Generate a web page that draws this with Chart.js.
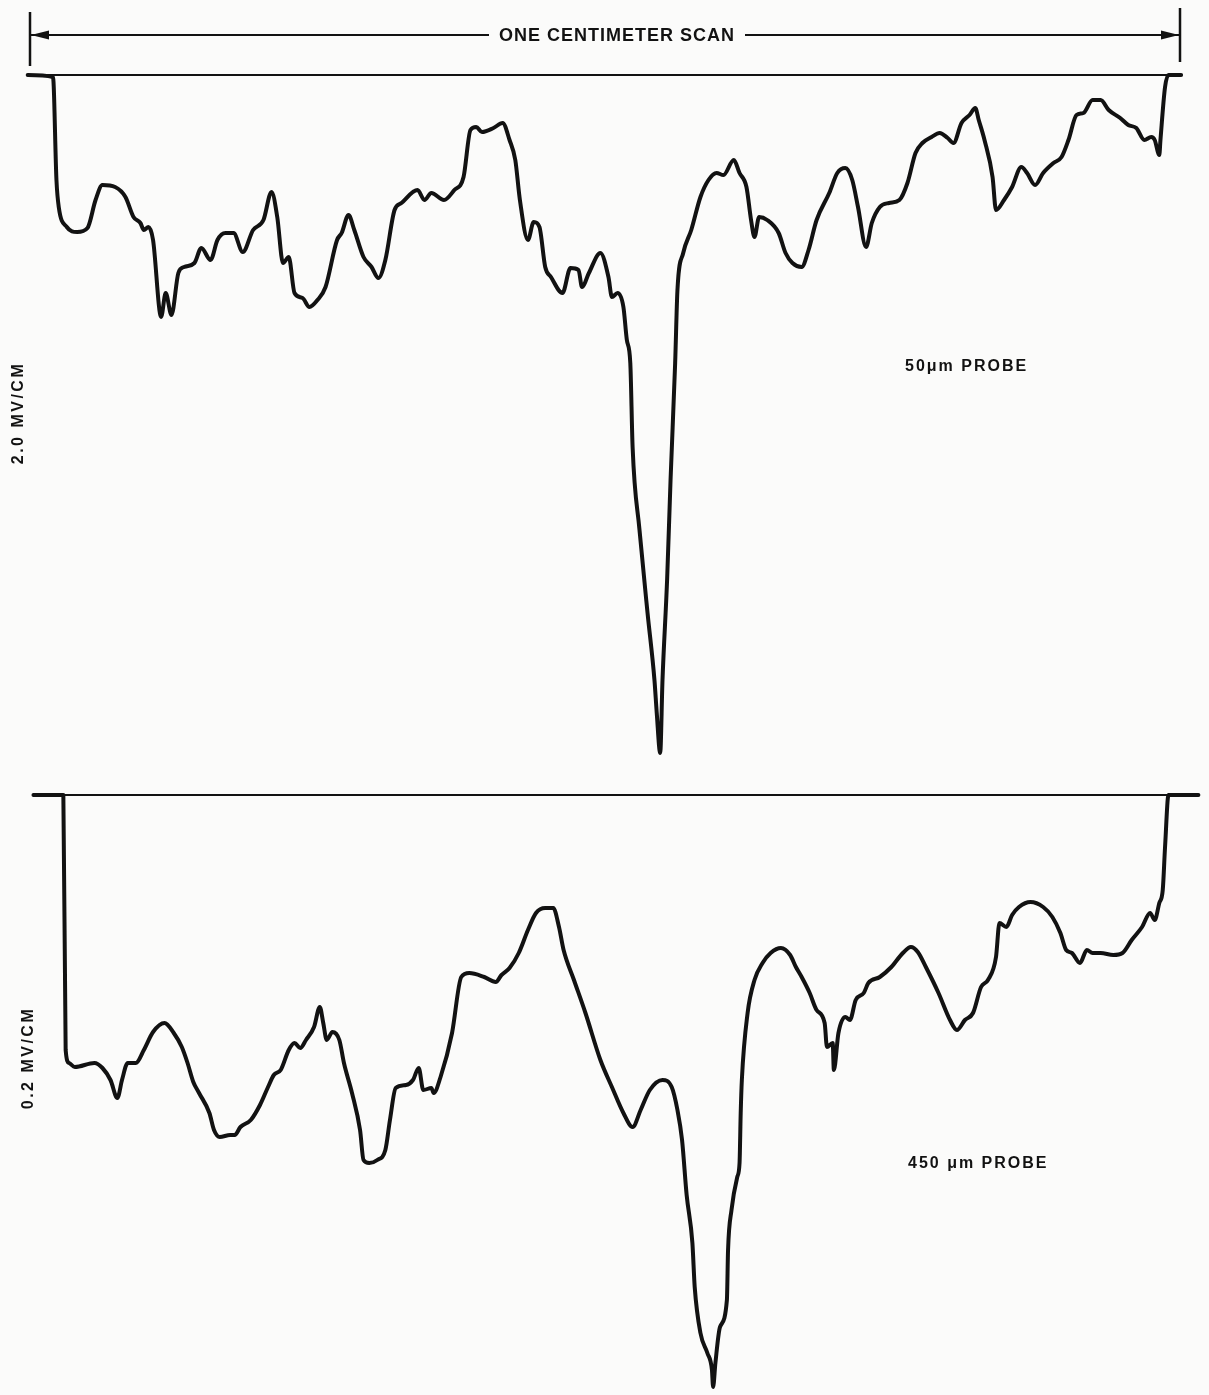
<!DOCTYPE html>
<html>
<head>
<meta charset="utf-8">
<title>One centimeter scan – 50 μm and 450 μm probes</title>
<script src="https://cdn.jsdelivr.net/npm/chart.js@4.4.1/dist/chart.umd.min.js"></script>
<style>
  html, body { margin: 0; padding: 0; background: #fbfbfa; }
  #wrap { position: relative; width: 1209px; height: 1395px; }
  canvas { display: block; }
</style>
</head>
<body>
<div id="wrap"><canvas id="scan" width="1209" height="1395"></canvas></div>
<script>
// Scan position in mm (0 … 10 mm = one centimeter) and field deflection
// in chart units below the zero line (negative = downward deflection).

// 50 μm probe trace
const probe50 = [
  [-0.02,0],[0.20,-0.2],[0.23,-10.5],[0.25,-13.2],[0.32,-15.2],[0.41,-15.7],[0.50,-15.3],[0.57,-12.5],
  [0.63,-11.0],[0.74,-11.2],[0.83,-12.2],[0.90,-14.2],[0.96,-14.8],[0.99,-15.5],[1.03,-15.2],[1.07,-16.5],
  [1.14,-24.2],[1.18,-21.8],[1.23,-24.0],[1.29,-19.8],[1.34,-19.2],[1.43,-18.8],[1.49,-17.3],[1.57,-18.5],
  [1.63,-16.5],[1.70,-15.8],[1.77,-15.8],[1.85,-17.7],[1.94,-15.5],[2.03,-14.5],[2.10,-11.7],[2.15,-14.2],
  [2.20,-18.8],[2.25,-18.2],[2.30,-21.8],[2.37,-22.3],[2.43,-23.2],[2.50,-22.5],[2.57,-21.2],[2.67,-16.5],
  [2.71,-15.8],[2.77,-14.0],[2.82,-15.5],[2.90,-18.2],[2.97,-19.2],[3.03,-20.3],[3.09,-18.5],[3.17,-13.5],
  [3.23,-12.8],[3.37,-11.5],[3.43,-12.5],[3.49,-11.8],[3.60,-12.5],[3.69,-11.5],[3.77,-10.2],[3.83,-5.5],
  [3.88,-5.2],[3.93,-5.7],[4.03,-5.3],[4.11,-4.8],[4.17,-6.5],[4.22,-8.5],[4.26,-12.5],[4.33,-16.5],
  [4.38,-14.7],[4.43,-15.2],[4.48,-19.2],[4.53,-20.2],[4.63,-21.8],[4.70,-19.3],[4.77,-19.5],[4.80,-21.2],
  [4.86,-19.8],[4.96,-17.8],[5.03,-20.2],[5.06,-22.2],[5.11,-21.8],[5.16,-23.2],[5.19,-26.5],[5.22,-28.8],
  [5.24,-37.2],[5.30,-45.5],[5.37,-53.8],[5.43,-60.5],[5.45,-63.8],[5.48,-67.8],[5.50,-60.5],[5.54,-50.5],
  [5.57,-40.5],[5.61,-28.8],[5.63,-21.5],[5.68,-17.8],[5.75,-15.5],[5.83,-12.2],[5.90,-10.5],[5.97,-9.8],
  [6.03,-10.0],[6.12,-8.5],[6.17,-9.8],[6.23,-11.2],[6.27,-14.5],[6.30,-16.2],[6.34,-14.2],[6.41,-14.5],
  [6.51,-15.8],[6.57,-17.8],[6.63,-18.8],[6.71,-19.2],[6.77,-17.5],[6.84,-14.5],[6.95,-11.8],[7.02,-9.8],
  [7.09,-9.3],[7.15,-10.5],[7.20,-13.2],[7.27,-17.2],[7.32,-14.8],[7.39,-13.2],[7.47,-12.8],[7.56,-12.5],
  [7.63,-10.8],[7.70,-7.8],[7.76,-6.8],[7.84,-6.2],[7.91,-5.8],[7.98,-6.3],[8.03,-6.8],[8.10,-4.8],
  [8.17,-4.0],[8.22,-3.3],[8.25,-4.5],[8.30,-6.5],[8.37,-10.2],[8.40,-13.5],[8.47,-12.5],[8.54,-11.2],
  [8.62,-9.2],[8.67,-9.8],[8.74,-11.0],[8.81,-9.8],[8.90,-8.8],[8.97,-8.2],[9.03,-6.5],[9.10,-4.0],
  [9.16,-3.8],[9.24,-2.5],[9.31,-2.5],[9.38,-3.5],[9.48,-4.3],[9.55,-5.0],[9.62,-5.3],[9.69,-6.5],
  [9.75,-6.2],[9.78,-6.5],[9.82,-8.0],[9.83,-6.5],[9.87,-1.2],[9.90,0],[10.01,0]
];

// 450 μm probe trace
const probe450 = [
  [0.03,0],[0.29,0],[0.31,-25.5],[0.34,-26.8],[0.39,-27.2],[0.56,-26.8],[0.63,-27.3],[0.70,-28.5],
  [0.76,-30.3],[0.80,-28.5],[0.85,-26.8],[0.92,-26.8],[0.99,-25.5],[1.07,-23.7],[1.17,-22.8],[1.25,-23.8],
  [1.32,-25.2],[1.37,-26.8],[1.42,-28.7],[1.47,-29.8],[1.56,-31.8],[1.60,-33.5],[1.65,-34.2],[1.74,-34.0],
  [1.78,-34.0],[1.83,-33.2],[1.92,-32.5],[2.00,-31.0],[2.07,-29.2],[2.12,-28.0],[2.18,-27.5],[2.25,-25.5],
  [2.30,-24.8],[2.35,-25.3],[2.40,-24.5],[2.47,-23.2],[2.52,-21.2],[2.55,-22.8],[2.58,-24.5],[2.63,-23.7],
  [2.69,-24.5],[2.73,-26.8],[2.80,-29.8],[2.87,-33.5],[2.90,-36.5],[2.95,-36.8],[3.02,-36.5],[3.09,-35.5],
  [3.13,-32.5],[3.18,-29.3],[3.27,-29.0],[3.33,-28.5],[3.38,-27.3],[3.42,-29.5],[3.49,-29.3],[3.51,-29.8],
  [3.57,-28.2],[3.67,-23.8],[3.75,-18.2],[3.82,-17.8],[3.95,-18.2],[4.05,-18.7],[4.10,-18.0],[4.17,-17.3],
  [4.25,-15.8],[4.33,-13.5],[4.40,-11.8],[4.48,-11.3],[4.55,-11.3],[4.60,-13.2],[4.64,-15.5],[4.73,-18.5],
  [4.83,-21.8],[4.96,-26.5],[5.06,-29.2],[5.16,-31.8],[5.24,-33.2],[5.31,-31.5],[5.39,-29.5],[5.50,-28.5],
  [5.58,-29.2],[5.63,-31.5],[5.67,-34.5],[5.71,-40.0],[5.76,-44.8],[5.78,-49.2],[5.83,-53.8],[5.89,-55.8],
  [5.93,-57.5],[5.94,-59.2],[5.96,-56.8],[6.00,-53.2],[6.06,-50.5],[6.07,-45.5],[6.10,-41.5],[6.15,-38.2],
  [6.17,-36.8],[6.18,-31.8],[6.19,-28.5],[6.24,-21.8],[6.30,-18.5],[6.37,-16.8],[6.44,-15.8],[6.53,-15.3],
  [6.61,-16.0],[6.66,-17.2],[6.71,-18.2],[6.78,-19.8],[6.84,-21.5],[6.91,-22.8],[6.93,-25.2],[6.98,-24.8],
  [6.99,-27.5],[7.03,-23.8],[7.09,-22.2],[7.13,-22.5],[7.18,-20.5],[7.25,-19.8],[7.29,-18.8],[7.39,-18.2],
  [7.49,-17.2],[7.59,-15.8],[7.66,-15.2],[7.72,-15.7],[7.79,-17.2],[7.90,-19.8],[8.00,-22.5],[8.06,-23.5],
  [8.13,-22.5],[8.20,-21.8],[8.27,-19.2],[8.33,-18.5],[8.40,-16.2],[8.43,-12.8],[8.49,-13.2],[8.54,-12.0],
  [8.60,-11.2],[8.70,-10.7],[8.81,-11.2],[8.89,-12.2],[8.96,-13.8],[9.01,-15.5],[9.06,-15.8],[9.13,-16.8],
  [9.19,-15.5],[9.24,-15.8],[9.31,-15.8],[9.42,-16.0],[9.50,-15.8],[9.58,-14.5],[9.67,-13.2],[9.74,-11.8],
  [9.78,-12.5],[9.82,-10.8],[9.85,-9.5],[9.87,-5.2],[9.90,0],[10.16,0]
];

// Zero reference lines (scan start / end in mm)
const zeroLine50 = [[-0.02,0],[10.01,0]];
const zeroLine450 = [[0.03,0],[10.16,0]];

// Text
const scanTitle = 'ONE CENTIMETER SCAN';
const scanLengthMm = [0, 10];
const sensitivityLabels = ['2.0 MV/CM', '0.2 MV/CM'];
const probeLabels = ['50\u03bcm PROBE', '450 \u03bcm PROBE'];

// ---- layout ----
const W = 1209, H = 1395;
const SCAN_LEFT = 30, PX_PER_MM = 115;      // horizontal placement of 0 mm
const TOP_ZERO = 75, BOT_ZERO = 795;        // zero lines of the two panels
const PX_PER_UNIT = 10;                     // vertical chart units
const INK = '#121212';

const toPts = arr => arr.map(([x, y]) => ({ x, y }));

const annotations = {
  id: 'annotations',
  beforeDraw(chart) {
    const c = chart.ctx;
    c.save();
    c.fillStyle = '#fbfbfa';
    c.fillRect(0, 0, chart.width, chart.height);
    c.restore();
  },
  afterDatasetsDraw(chart) {
    const c = chart.ctx;
    const xs = chart.scales.x, yt = chart.scales.yTop;
    const x0 = xs.getPixelForValue(scanLengthMm[0]);
    const x1 = xs.getPixelForValue(scanLengthMm[1]);
    const barY = yt.getPixelForValue(4.0);
    const tickTop = yt.getPixelForValue(6.3), tickBot = yt.getPixelForValue(0.9);
    c.save();
    c.strokeStyle = INK; c.fillStyle = INK;
    c.lineCap = 'butt';

    // end ticks
    c.lineWidth = 2.5;
    c.beginPath();
    c.moveTo(x0, tickTop); c.lineTo(x0, tickBot);
    c.moveTo(x1, tickTop - 4); c.lineTo(x1, tickBot - 4);
    c.stroke();

    // title in the middle of the bar
    c.font = 'bold 18px "Liberation Sans", Arial, sans-serif';
    try { c.letterSpacing = '1px'; } catch (e) {}
    c.textBaseline = 'middle';
    c.textAlign = 'center';
    const tx = (x0 + x1) / 2 + 12;
    const tw = c.measureText(scanTitle).width;
    c.fillText(scanTitle, tx, barY + 1);

    // bar with arrowheads
    c.lineWidth = 2;
    c.beginPath();
    c.moveTo(x0, barY); c.lineTo(tx - tw / 2 - 10, barY);
    c.moveTo(tx + tw / 2 + 10, barY); c.lineTo(x1, barY);
    c.stroke();
    c.beginPath();
    c.moveTo(x0 + 1, barY); c.lineTo(x0 + 19, barY - 4.5); c.lineTo(x0 + 19, barY + 4.5); c.closePath();
    c.moveTo(x1 - 1, barY); c.lineTo(x1 - 19, barY - 4.5); c.lineTo(x1 - 19, barY + 4.5); c.closePath();
    c.fill();

    // probe labels
    c.font = 'bold 16px "Liberation Sans", Arial, sans-serif';
    try { c.letterSpacing = '2px'; } catch (e) {}
    c.textAlign = 'left';
    c.fillText(probeLabels[0], 905, 367);
    c.fillText(probeLabels[1], 908, 1164);

    // sensitivity labels (vertical)
    try { c.letterSpacing = '2.5px'; } catch (e) {}
    c.textAlign = 'center';
    [[sensitivityLabels[0], 19, 413], [sensitivityLabels[1], 29, 1058]].forEach(([t, x, y]) => {
      c.save();
      c.translate(x, y);
      c.rotate(-Math.PI / 2);
      c.fillText(t, 0, 0);
      c.restore();
    });
    c.restore();
  }
};

const traceStyle = {
  borderColor: INK, borderWidth: 4, pointRadius: 0,
  cubicInterpolationMode: 'monotone',
  borderJoinStyle: 'round', borderCapStyle: 'round', fill: false
};
const zeroStyle = {
  borderColor: INK, borderWidth: 2, pointRadius: 0, tension: 0, fill: false
};

new Chart(document.getElementById('scan'), {
  type: 'line',
  data: {
    datasets: [
      { label: 'zero 50 μm', data: toPts(zeroLine50), yAxisID: 'yTop', ...zeroStyle },
      { label: 'zero 450 μm', data: toPts(zeroLine450), yAxisID: 'yBot', ...zeroStyle },
      { label: '50 μm probe', data: toPts(probe50), yAxisID: 'yTop', ...traceStyle },
      { label: '450 μm probe', data: toPts(probe450), yAxisID: 'yBot', ...traceStyle }
    ]
  },
  options: {
    responsive: false,
    animation: false,
    devicePixelRatio: 1,
    layout: { padding: 0 },
    plugins: { legend: { display: false }, tooltip: { enabled: false } },
    events: [],
    scales: {
      x: { type: 'linear', display: false,
           min: -SCAN_LEFT / PX_PER_MM, max: (W - SCAN_LEFT) / PX_PER_MM },
      yTop: { type: 'linear', display: false,
              min: (TOP_ZERO - H) / PX_PER_UNIT, max: TOP_ZERO / PX_PER_UNIT },
      yBot: { type: 'linear', display: false,
              min: (BOT_ZERO - H) / PX_PER_UNIT, max: BOT_ZERO / PX_PER_UNIT }
    }
  },
  plugins: [annotations]
});
</script>
</body>
</html>
